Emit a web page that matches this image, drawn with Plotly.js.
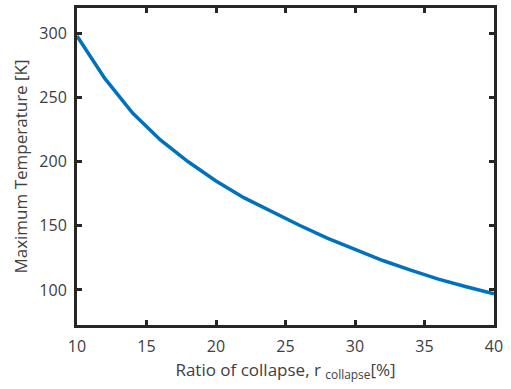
<!DOCTYPE html>
<html>
<head>
<meta charset="utf-8">
<script src="https://cdn.plot.ly/plotly-3.0.1.min.js"></script>
<style>html,body{margin:0;padding:0;background:#fff;}#chart{width:511px;height:389px;}</style>
</head>
<body>
<div id="chart"></div>
<script>
const ratio = [10, 12, 14, 16, 18, 20, 22, 24, 26, 28, 30, 32, 34, 36, 38, 40];
const maxTemp = [298, 265, 238, 217, 200, 185, 172, 161, 150.5, 140.5, 131.5, 123, 115.5, 108.5, 102.5, 97];
const xTicks = [10, 15, 20, 25, 30, 35, 40];
const yTicks = [100, 150, 200, 250, 300];

const axisCommon = {
  showline: true, linecolor: '#262626', linewidth: 3, mirror: 'ticks',
  ticks: 'inside', ticklen: 5, tickwidth: 3, tickcolor: '#262626',
  showgrid: false, zeroline: false,
  tickfont: {family: 'Open Sans, sans-serif', size: 16, color: '#404040'}
};

Plotly.newPlot('chart', [{
  x: ratio, y: maxTemp, type: 'scatter', mode: 'lines',
  line: {color: '#0072BD', width: 3.5}, hoverinfo: 'skip'
}], {
  width: 511, height: 389,
  margin: {l: 77, r: 17, t: 8, b: 64},
  paper_bgcolor: '#fff', plot_bgcolor: '#fff',
  showlegend: false,
  xaxis: Object.assign({}, axisCommon, {
    range: [10, 40], tickvals: xTicks, ticktext: xTicks.map(String),
    ticklabelstandoff: 5,
    title: {text: 'Ratio of collapse, r <sub>collapse</sub>[%]', standoff: 8,
      font: {family: 'Open Sans, sans-serif', size: 17, color: '#404040'}}
  }),
  yaxis: Object.assign({}, axisCommon, {
    range: [72.7, 319.9], tickvals: yTicks, ticktext: yTicks.map(String),
    ticklabelstandoff: 4,
    title: {text: 'Maximum Temperature [K]', standoff: 8,
      font: {family: 'Open Sans, sans-serif', size: 17, color: '#404040'}}
  })
}, {staticPlot: true});
</script>
</body>
</html>
